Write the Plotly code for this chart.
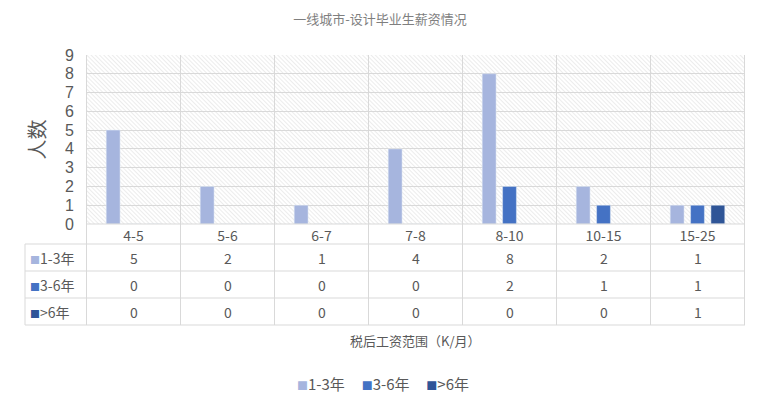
import base64

import plotly.graph_objects as go


categories = ["4-5", "5-6", "6-7", "7-8", "8-10", "10-15", "15-25"]
series_names = ["1-3年", "3-6年", ">6年"]
junior = [5, 2, 1, 4, 8, 2, 1]
middle = [0, 0, 0, 0, 2, 1, 1]
senior = [0, 0, 0, 0, 0, 0, 1]
y_ticks = list(range(10))

COLORS = ["#a6b5de", "#4472c4", "#2f5597"]
TEXT = "#595959"
GRID = "#d9d9d9"
FONT = "Noto Sans CJK SC"

# plot area in pixels: x 86..745, y 55..224
PLOT_H = 169
PLOT_W = 659


def py(pixel_y):
    return (224 - pixel_y) / PLOT_H


def px(pixel_x):
    return (pixel_x - 86) / PLOT_W


def hatch_image():
    svg = (
        f'<svg xmlns="http://www.w3.org/2000/svg" width="{PLOT_W}" height="{PLOT_H}" '
        f'viewBox="0 0 {PLOT_W} {PLOT_H}" preserveAspectRatio="none">'
        '<defs><pattern id="h" width="3" height="3" patternUnits="userSpaceOnUse" '
        'patternTransform="rotate(-45)">'
        '<line x1="0" y1="0" x2="0" y2="3" stroke="#dadada" stroke-width="1"/>'
        "</pattern></defs>"
        f'<rect width="{PLOT_W}" height="{PLOT_H}" fill="white"/>'
        f'<rect width="{PLOT_W}" height="{PLOT_H}" fill="url(#h)"/></svg>'
    )
    return "data:image/svg+xml;base64," + base64.b64encode(svg.encode()).decode()


def main() -> None:
    values = [junior, middle, senior]
    fig = go.Figure()
    for name, vals, color in zip(series_names, values, COLORS):
        fig.add_trace(go.Bar(x=categories, y=vals, name=name, marker_color=color))

    shapes = []
    line = dict(color=GRID, width=1)
    n = len(categories)
    # vertical lines through plot and table
    for i in range(n + 1):
        shapes.append(dict(type="line", xref="x", yref="paper", x0=i - 0.5, x1=i - 0.5,
                           y0=py(325), y1=1, line=line, layer="above"))
    # table horizontal lines
    shapes.append(dict(type="line", xref="paper", yref="paper", x0=0, x1=1,
                       y0=0, y1=0, line=line))
    for yy in (244, 271, 298, 325):
        shapes.append(dict(type="line", xref="paper", yref="paper", x0=px(25), x1=1,
                           y0=py(yy), y1=py(yy), line=line))
    shapes.append(dict(type="line", xref="paper", yref="paper", x0=px(25), x1=px(25),
                       y0=py(325), y1=py(244), line=line))

    annotations = []
    row_centers = [257.5, 284.5, 311.5]
    for name, vals, color, yc in zip(series_names, values, COLORS, row_centers):
        annotations.append(dict(
            xref="paper", yref="paper", x=px(28), y=py(yc), xanchor="left", yanchor="middle",
            text=f"<span style='color:{color};font-size:10px'>■</span>{name}",
            showarrow=False, font=dict(size=14, color=TEXT, family=FONT)))
        for cat, v in zip(categories, vals):
            annotations.append(dict(
                xref="x", yref="paper", x=cat, y=py(yc), text=str(v), showarrow=False,
                xanchor="center", yanchor="middle",
                font=dict(size=14, color=TEXT, family=FONT)))

    # legend below the table
    legend_text = "&nbsp;&nbsp;&nbsp;&nbsp;&nbsp;".join(
        f"<span style='color:{c};font-size:11px'>■</span>{n}"
        for n, c in zip(series_names, COLORS)
    )
    annotations.append(dict(
        xref="paper", yref="paper", x=px(383), y=py(383), xanchor="center", yanchor="middle",
        text=legend_text, showarrow=False, font=dict(size=15, color=TEXT, family=FONT)))

    annotations.append(dict(
        xref="paper", yref="paper", x=px(415), y=py(340), xanchor="center", yanchor="middle",
        text="税后工资范围（K/月）",
        showarrow=False, font=dict(size=13, color=TEXT, family=FONT)))
    annotations.append(dict(
        xref="paper", yref="paper", x=px(36), y=0.5, text="人数", textangle=-90,
        xanchor="center", yanchor="middle",
        showarrow=False, font=dict(size=20, color=TEXT, family=FONT)))

    fig.update_layout(
        width=760,
        height=412,
        margin=dict(l=86, r=15, t=55, b=188),
        paper_bgcolor="white",
        plot_bgcolor="rgba(0,0,0,0)",
        title=dict(text="一线城市-设计毕业生薪资情况", x=0.5, xanchor="center",
                   y=1 - 19 / 412, yanchor="middle",
                   font=dict(size=13, color="#7f7f7f", family=FONT)),
        font=dict(family=FONT, color=TEXT),
        barmode="group",
        bargap=0.35,
        bargroupgap=0.32,
        showlegend=False,
        shapes=shapes,
        annotations=annotations,
        images=[dict(source=hatch_image(), xref="paper", yref="paper", x=0, y=1,
                     sizex=1, sizey=1, sizing="stretch", layer="below",
                     xanchor="left", yanchor="top")],
        xaxis=dict(showgrid=False, showline=False, ticks="", zeroline=False,
                   tickfont=dict(size=14, color=TEXT, family=FONT), ticklabelstandoff=2),
        yaxis=dict(range=[0, 9], tickvals=y_ticks, showgrid=True, gridcolor=GRID,
                   gridwidth=1, zeroline=False, showline=False,
                   tickfont=dict(size=16, color=TEXT, family="Liberation Sans"),
                   ticklabelstandoff=11),
    )
    fig.write_html("out.html", config={"displayModeBar": False},
                   post_script="document.body.style.margin='0';")


if __name__ == "__main__":
    main()
